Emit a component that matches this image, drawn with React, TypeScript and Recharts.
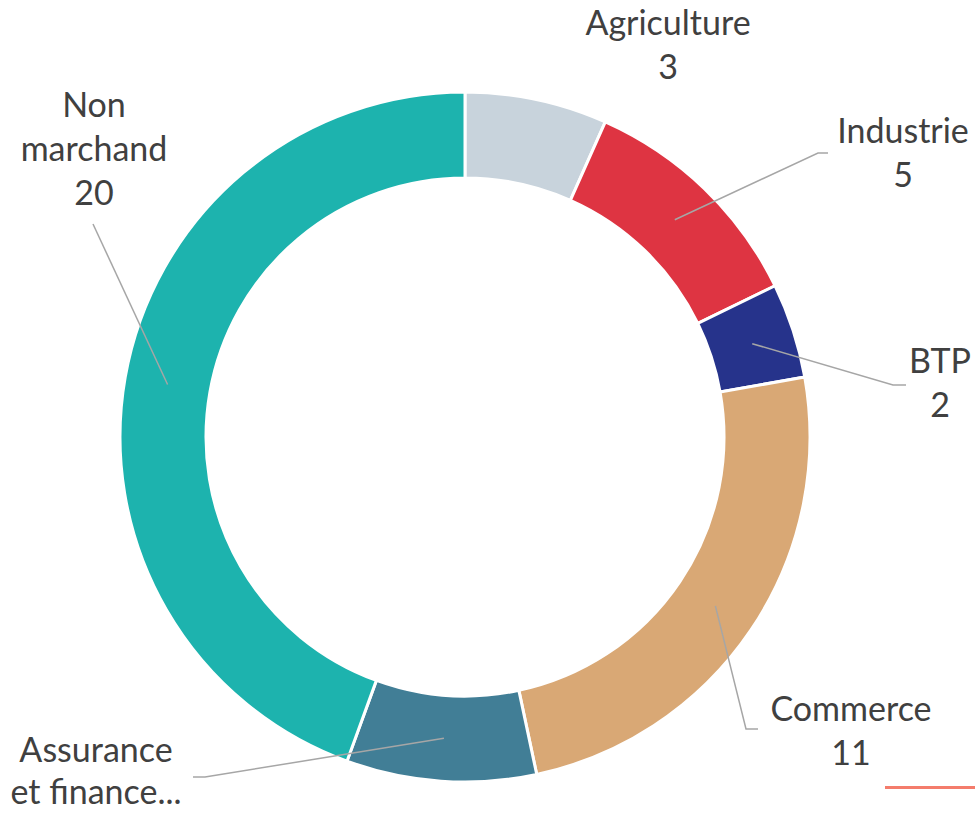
import { PieChart, Pie, Cell } from 'recharts';

const sectors = ['Agriculture', 'Industrie', 'BTP', 'Commerce', 'Assurance et finance', 'Non marchand'];
const jobs = [3, 5, 2, 11, 4, 20];
const labelLines = [
  ['Agriculture', '3'],
  ['Industrie', '5'],
  ['BTP', '2'],
  ['Commerce', '11'],
  ['Assurance', 'et finance...'],
  ['Non', 'marchand', '20'],
];

const COLORS = [
  '#c8d3dc', // agriculture grey-blue
  '#de3442', // industrie red
  '#26338b', // btp navy
  '#d9a875', // commerce sand
  '#417e96', // assurance petrol
  '#1db3ae', // non marchand teal
];

// where each label sits and how its leader line bends (x of text center, first baseline, elbow points)
const labelLayout = [
  { x: 668, y: 35, path: [] as number[][] },
  { x: 903, y: 143, path: [[818, 153], [828, 153]] },
  { x: 940, y: 373, path: [[893, 385], [906, 385]] },
  { x: 851, y: 721, path: [[746, 729], [758, 729]] },
  { x: 96, y: 762, path: [[205, 777], [193, 777]] },
  { x: 94, y: 117, path: [[93, 224]] },
];

const RAD = Math.PI / 180;
const LINE_H = 44;

const chartData = sectors.map((name, i) => ({ name, value: jobs[i] }));

const renderLabel = (props: any) => {
  const { cx, cy, midAngle, innerRadius, outerRadius, index } = props;
  const layout = labelLayout[index];
  const r = (innerRadius + outerRadius) / 2;
  const ax = cx + r * Math.cos(-midAngle * RAD);
  const ay = cy + r * Math.sin(-midAngle * RAD);
  const pts = [[ax, ay], ...layout.path];
  const lh = index === 4 ? 42 : LINE_H;
  return (
    <g key={`lbl-${index}`}>
      {layout.path.length > 0 && (
        <polyline
          points={pts.map(p => p.join(',')).join(' ')}
          fill="none"
          stroke="#a6a6a6"
          strokeWidth={1.5}
        />
      )}
      <text
        x={layout.x}
        y={layout.y}
        textAnchor="middle"
        fill="#404040"
        fontSize={34}
        fontFamily="Lato, 'Open Sans', sans-serif"
      >
        {labelLines[index].map((line, j) => (
          <tspan key={j} x={layout.x} y={layout.y + j * lh}>{line}</tspan>
        ))}
      </text>
    </g>
  );
};

export default function App() {
  return (
    <div style={{ position: 'absolute', left: 0, top: 0, width: 975, height: 814, background: '#fff' }}>
      <PieChart width={975} height={814} margin={{ top: 0, right: 0, bottom: 0, left: 0 }}>
        <Pie
          data={chartData}
          dataKey="value"
          nameKey="name"
          cx={465}
          cy={437}
          innerRadius={259}
          outerRadius={345}
          startAngle={90}
          endAngle={-270}
          stroke="#ffffff"
          strokeWidth={3}
          label={renderLabel}
          labelLine={false}
          isAnimationActive={false}
        >
          {chartData.map((entry, index) => (
            <Cell key={`cell-${index}`} fill={COLORS[index % COLORS.length]} />
          ))}
        </Pie>
      </PieChart>
      <div style={{ position: 'absolute', left: 885, top: 786, width: 90, height: 3, background: '#f47c6c' }} />
    </div>
  );
}
